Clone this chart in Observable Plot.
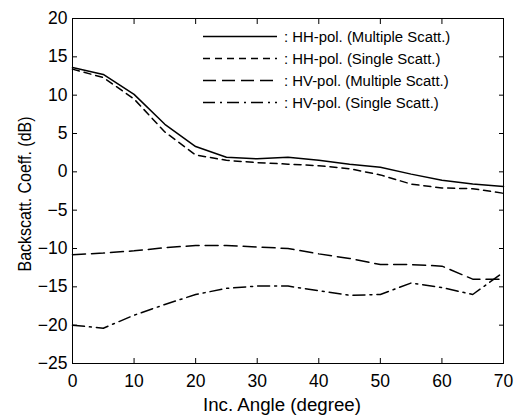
<!DOCTYPE html>
<html><head><meta charset="utf-8">
<script src="https://cdn.jsdelivr.net/npm/d3@7"></script>
<script src="https://cdn.jsdelivr.net/npm/@observablehq/plot@0.6"></script>
<style>
body{margin:0;background:#fff;font-family:"Liberation Sans",Arial,sans-serif;}
#wrap{position:relative;width:516px;height:416px;}
#legend{position:absolute;left:0;top:0;pointer-events:none;}
</style></head>
<body><div id="wrap"></div>
<script>
const angles = [0,5,10,15,20,25,30,35,40,45,50,55,60,65,70];
const hhMultiple = [13.6,12.7,10.1,6.2,3.3,1.9,1.7,1.9,1.5,1.0,0.6,-0.3,-1.1,-1.6,-1.9];
const hhSingle   = [13.4,12.3,9.5,5.2,2.2,1.5,1.2,1.0,0.8,0.4,-0.4,-1.6,-2.1,-2.2,-2.8];
const hvMultiple = [-10.8,-10.6,-10.3,-9.9,-9.6,-9.6,-9.8,-10.0,-10.7,-11.3,-12.1,-12.1,-12.3,-14.0,-14.0];
const hvSingle   = [-20.0,-20.4,-18.7,-17.3,-16.0,-15.2,-14.9,-14.9,-15.5,-16.1,-16.0,-14.5,-15.1,-16.0,-13.1];
const seriesNames = [": HH-pol. (Multiple Scatt.)", ": HH-pol. (Single Scatt.)", ": HV-pol. (Multiple Scatt.)", ": HV-pol. (Single Scatt.)"];
const xTicks = [0,10,20,30,40,50,60,70];
const yTicks = [-25,-20,-15,-10,-5,0,5,10,15,20];

const FONT = '"Liberation Sans", Arial, sans-serif';
const dashes = [null, "7,5", "13,6", "12,5,2,5"];
const allSeries = [hhMultiple, hhSingle, hvMultiple, hvSingle];

const lineMarks = allSeries.map((vals, i) =>
  Plot.line(angles.map((a, j) => ({x: a, y: vals[j]})), {
    x: "x", y: "y", stroke: "black", strokeWidth: 1.5,
    strokeDasharray: dashes[i] || undefined
  })
);

const chart = Plot.plot({
  width: 516, height: 416,
  marginLeft: 72, marginRight: 13, marginTop: 18, marginBottom: 53,
  style: {fontFamily: FONT, fontSize: "17px", background: "white", color: "black"},
  x: {domain: [0, 70]},
  y: {domain: [-25, 20]},
  marks: [
    Plot.frame({stroke: "black", strokeWidth: 1}),
    Plot.axisX(xTicks, {anchor: "bottom", tickSize: -5, tickPadding: 16, label: null, fontSize: 17.5}),
    Plot.axisX(xTicks, {anchor: "top", tickSize: -5, text: null, label: null}),
    Plot.axisY(yTicks, {anchor: "left", tickSize: -5, tickPadding: 10, label: null, fontSize: 17.5}),
    Plot.axisY(yTicks, {anchor: "right", tickSize: -5, text: null, label: null}),
    ...lineMarks
  ]
});
document.getElementById("wrap").appendChild(chart);

// axis titles and legend overlay
const svg = d3.select("#wrap").append("svg").attr("id","legend").attr("width",516).attr("height",416);
svg.append("text").attr("x", 282).attr("y", 411).attr("text-anchor","middle")
  .attr("font-size", 18).attr("font-family", FONT)
  .attr("textLength", 158).attr("lengthAdjust", "spacingAndGlyphs").text("Inc. Angle (degree)");
svg.append("text").attr("transform","translate(31,194) rotate(-90)").attr("text-anchor","middle")
  .attr("font-size", 18).attr("font-family", FONT)
  .attr("textLength", 155).attr("lengthAdjust", "spacingAndGlyphs").text("Backscatt. Coeff. (dB)");
seriesNames.forEach((name, i) => {
  const y = 36.5 + i * 22;
  svg.append("line").attr("x1", 203).attr("x2", 277).attr("y1", y).attr("y2", y)
    .attr("stroke","black").attr("stroke-width",1.5).attr("stroke-dasharray", dashes[i]);
  svg.append("text").attr("x", 284).attr("y", y).attr("dy","0.35em")
    .attr("font-size", 14.9).attr("font-family", FONT).text(name);
});
</script></body></html>
